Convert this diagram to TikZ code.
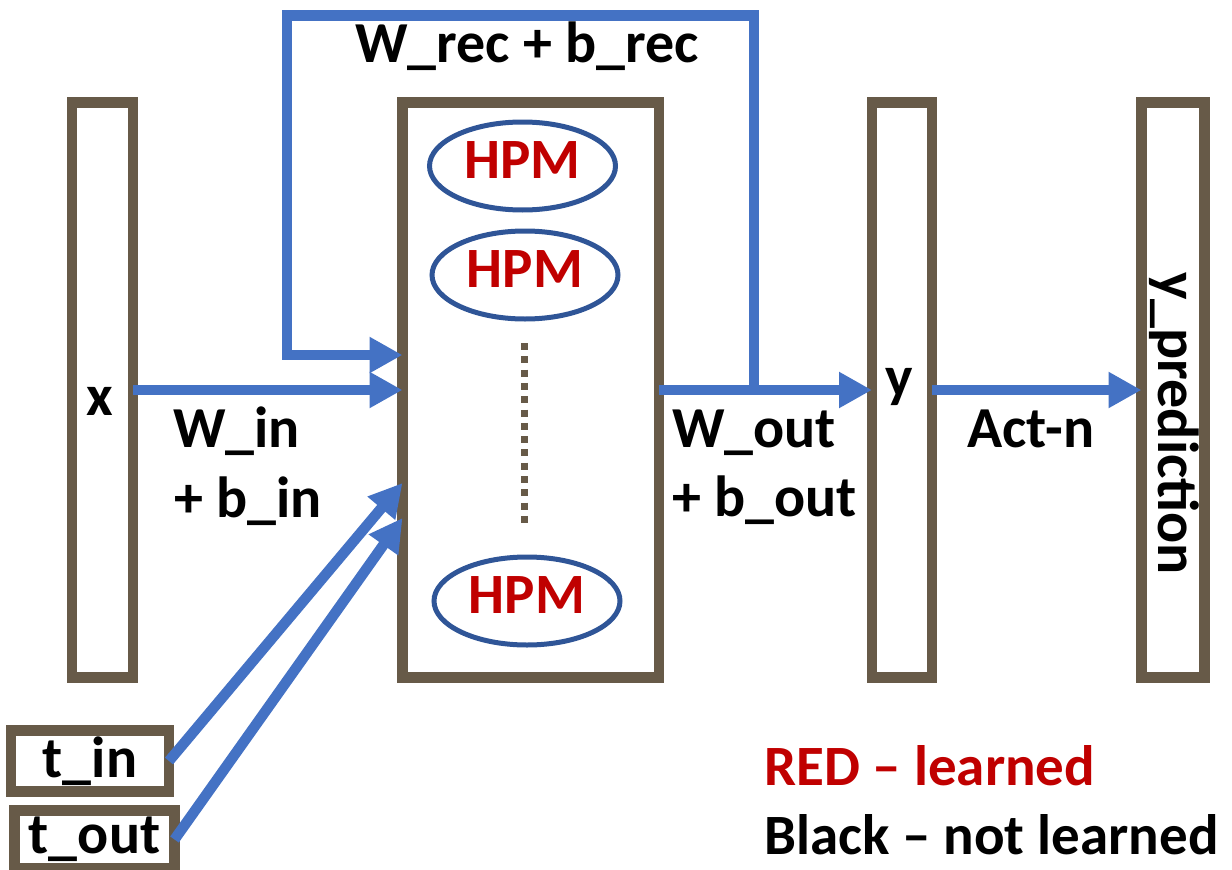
\documentclass[tikz,border=0pt]{standalone}
\usepackage{fontspec}
\setmainfont{Carlito}
\usetikzlibrary{arrows.meta,calc,shapes.geometric}
\definecolor{boxbrown}{RGB}{103,90,72}
\definecolor{flowblue}{RGB}{68,114,196}
\definecolor{hpmblue}{RGB}{47,85,151}
\definecolor{learnred}{RGB}{192,0,0}

\begin{document}
\begin{tikzpicture}[x=1pt,y=-1pt,
  layer/.style={draw=boxbrown,line width=10.5pt,minimum width=61pt,
    minimum height=575pt,inner sep=0pt,outer sep=0pt},
  tbox/.style={draw=boxbrown,line width=10.5pt,inner sep=0pt,outer sep=0pt,
    font=\fontsize{58}{70}\selectfont\bfseries},
  hpm/.style={ellipse,draw=hpmblue,line width=5pt,minimum width=186pt,
    minimum height=88pt,inner sep=0pt,text=learnred,text depth=12pt,
    font=\fontsize{57}{60}\selectfont\bfseries},
  lbl/.style={inner sep=0pt,font=\fontsize{58}{70}\selectfont\bfseries},
  legend/.style={inner sep=0pt,font=\fontsize{57}{70}\selectfont\bfseries},
  flow/.style={draw=flowblue,line width=10.5pt,line join=miter,
    -{Triangle[length=33pt,width=34pt]}},
  dots/.style={draw=boxbrown,line width=7pt,dash pattern=on 7pt off 6.3pt},
]
\useasboundingbox (0,0) rectangle (1232,870);

% layers
\node[layer] (xl) at (102.5,390) {};
\node[layer,minimum width=256.5pt] (core) at (530.75,390) {};
\node[layer,minimum width=60pt] (yl) at (902,390) {};
\node[layer,minimum width=63pt] (yp) at (1173,390) {};

% time inputs
\node[tbox,minimum width=158pt,minimum height=61pt] (tin) at (90,761) {t\_in};
\node[tbox,minimum width=160pt,minimum height=58pt] (tout) at (94.5,839.5) {t\_out};

% HPM units inside the hidden layer
\node[hpm] (h1) at (522.5,166) {HPM};
\node[hpm] (h2) at (525,275) {HPM};
\node[hpm] (h3) at (527,601) {HPM};
\coordinate (d1) at (524,343);
\coordinate (d2) at (524,527);
\draw[dots] (d1) -- (d2);

% layer labels
\node[lbl,anchor=base] (xt) at (100,415) {x};
\node[lbl,anchor=base] (yt) at (899,396) {y};
\node[lbl,anchor=base,rotate=-90] (ypt) at (1158,423.5) {y\_prediction};

% connection labels
\node[lbl,anchor=base west] (rec) at (355,62) {W\_rec + b\_rec};
\node[lbl,anchor=base west] (win) at (173,447) {W\_in};
\node[lbl,anchor=base west] (bin) at (174,517) {+ b\_in};
\node[lbl,anchor=base west] (wout) at (672,447) {W\_out};
\node[lbl,anchor=base west] (bout) at (672,516) {+ b\_out};
\node[lbl,anchor=base west] (act) at (967,447) {Act-n};

% legend
\node[legend,anchor=base west,text=learnred] (leg1) at (764,785) {RED – learned};
\node[legend,anchor=base west] (leg2) at (764,854) {Black – not learned};

% connections
\coordinate (tap) at (754,390);
\coordinate (loopin) at ($(core.west)+(0,-35)$);
\draw[flow] (xl.east) -- (core.west);
\draw[flow] (core.east) -- (yl.west);
\draw[flow] (yl.east) -- (yp.west);
\draw[flow] (tap) -- (754,15.5) -- (287,15.5) |- (loopin);
\draw[flow] (tin.east) -- ($(core.west)+(0,93)$);
\draw[flow] (tout.east) -- ($(core.west)+(0,128)$);
\end{tikzpicture}
\end{document}
